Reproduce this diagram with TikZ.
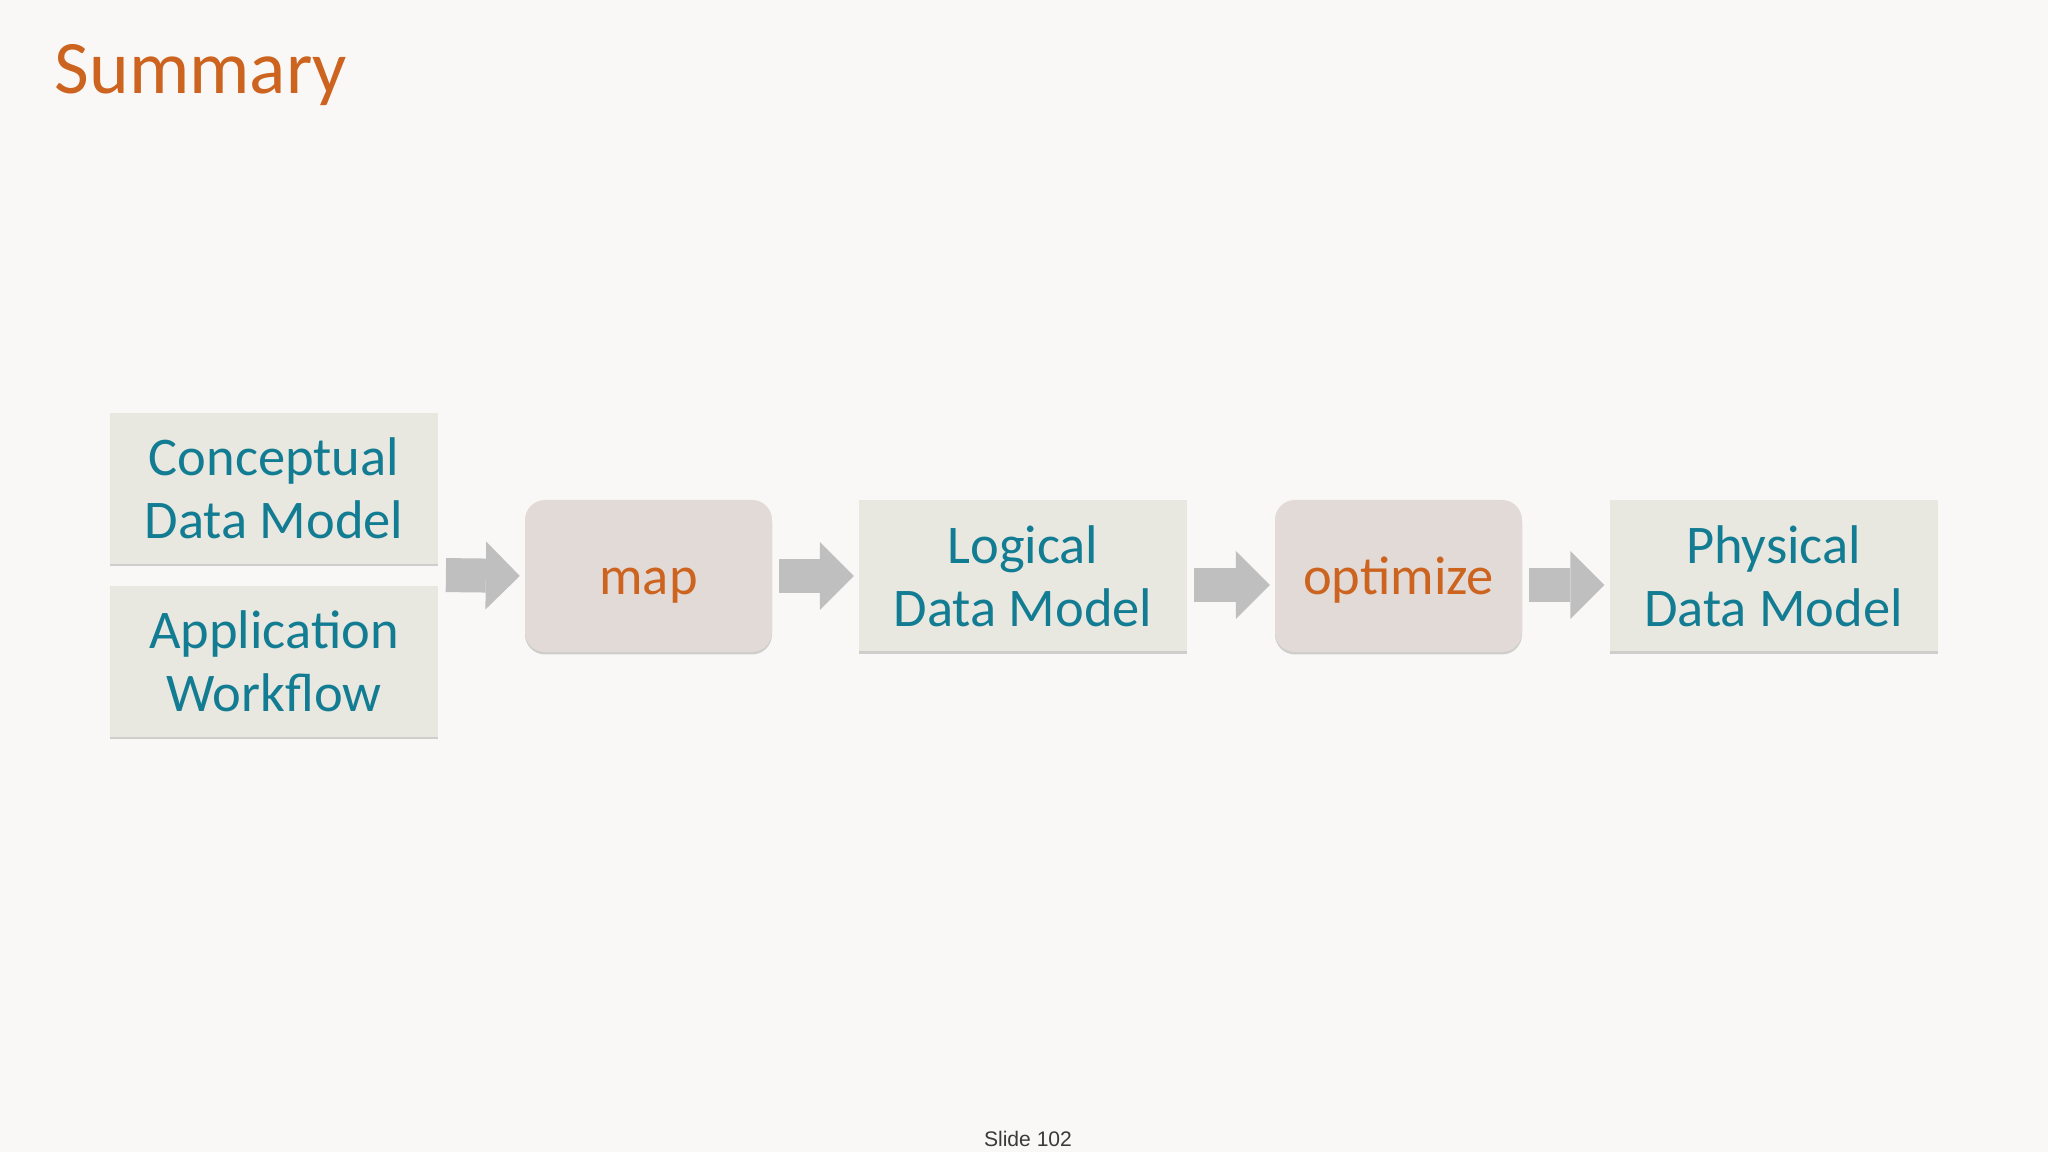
\documentclass[tikz,border=0pt]{standalone}
\usepackage{fontspec}
\setmainfont{Carlito}
\newfontfamily\slidefont{Liberation Sans}
\usepackage{tikz}
\usetikzlibrary{arrows.meta,positioning,fit,shadows}

\definecolor{bgpaper}{HTML}{F9F8F7}
\definecolor{boxfill}{HTML}{E8E7E0}
\definecolor{stepfill}{HTML}{E2DAD6}
\definecolor{tealtext}{RGB}{18,124,146}
\definecolor{orangetext}{HTML}{CC6420}
\definecolor{arrowgray}{HTML}{C0BFC0}
\definecolor{slidegray}{HTML}{3A3A3A}

\begin{document}
\begin{tikzpicture}[
    model/.style={rectangle, fill=boxfill, minimum width=3.28cm, minimum height=1.51cm, inner sep=2pt, align=center,
        text=tealtext, font=\fontsize{15.5}{18}\selectfont,
        drop shadow={shadow xshift=0pt, shadow yshift=-0.025cm, opacity=0.35, fill=black!50}},
    action/.style={rectangle, rounded corners=0.2cm, fill=stepfill, minimum width=2.47cm, minimum height=1.52cm, inner sep=2pt, align=center,
        text=orangetext, font=\fontsize{15.5}{18}\selectfont, text height=0.38cm, text depth=0pt,
        drop shadow={shadow xshift=0pt, shadow yshift=-0.025cm, opacity=0.35, fill=black!50}},
    flow/.style={-{Triangle[length=0.34cm, width=0.68cm, line width=0pt]}, line width=0.34cm, draw=arrowgray,
        shorten <=0.065cm, shorten >=0.045cm}
]
    % Background
    \fill[bgpaper] (0,0) rectangle (20.48,-11.52);
    \useasboundingbox (0,0) rectangle (20.48,-11.52);

    % Title
    \node[anchor=base west, inner sep=0pt, text=orangetext, font=\fontsize{21.5}{26}\selectfont] (title) at (0.54,-0.94) {Summary};

    % Inputs
    \node[model] (cdm) at (2.74,-4.885) {Conceptual\\Data Model};
    \node[model] (aw) at (2.74,-6.615) {Application\\Workflow};
    \node[fit=(cdm)(aw), inner sep=0pt] (inputs) {};

    % Steps
    \node[action] (map) at (6.485,-5.76) {map};
    \node[model] (ldm) at (10.23,-5.76) {Logical\\Data Model};
    \node[action] (opt) at (13.985,-5.76) {optimize};
    \node[model] (pdm) at (17.735,-5.76) {Physical\\Data Model};

    % Arrows
    \draw[flow] (inputs.east) -- (map.west);
    \draw[flow] (map) -- (ldm);
    \draw[flow] ([yshift=-0.09cm]ldm.east) -- ([yshift=-0.09cm]opt.west);
    \draw[flow] ([yshift=-0.09cm]opt.east) -- ([yshift=-0.09cm]pdm.west);

    % Footer
    \node[anchor=base, inner sep=0pt, text=slidegray, font=\slidefont\fontsize{6}{7}\selectfont] (slideno) at (10.28,-11.46) {Slide 102};
\end{tikzpicture}
\end{document}
